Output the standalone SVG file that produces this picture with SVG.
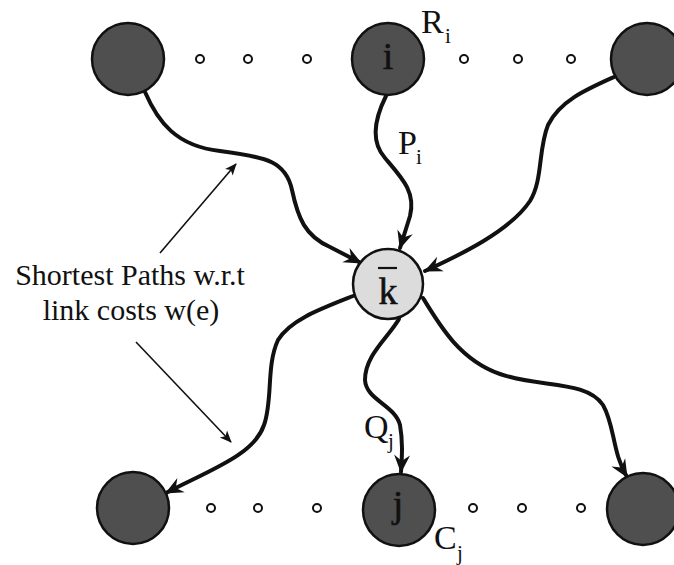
<svg xmlns="http://www.w3.org/2000/svg" width="674" height="565" viewBox="0 0 674 565">
  <style>
    .host { fill: #4f4f4f; stroke: #111111; stroke-width: 2.5; }
    .hub { fill: #dcdcdc; stroke: #111111; stroke-width: 2.5; }
    .dot { fill: #ffffff; stroke: #111111; stroke-width: 2; }
    .path { fill: none; stroke: #111111; stroke-width: 4; stroke-linecap: round; marker-end: url(#ah); }
    .note { fill: none; stroke: #111111; stroke-width: 1.6; marker-end: url(#thin); }
    text { font-family: "Liberation Serif", "Times New Roman", serif; fill: #111111; }
    .lbl { font-size: 38px; text-anchor: middle; stroke: #111111; stroke-width: 0.6; }
    .big { font-size: 34px; }
    .sub { font-size: 21px; }
    .cap { font-size: 30px; text-anchor: middle; }
  </style>
  <defs>
    <marker id="ah" viewBox="-18 -10 20 20" refX="0" refY="0" markerWidth="20" markerHeight="20" markerUnits="userSpaceOnUse" orient="auto">
      <path d="M1,0 L-17,-8 L-11,0 L-17,8 Z" fill="#111111"/>
    </marker>
    <marker id="thin" viewBox="-12 -6 13 12" refX="0" refY="0" markerWidth="13" markerHeight="12" markerUnits="userSpaceOnUse" orient="auto">
      <path d="M1,0 L-11,-5 L-8,0 L-11,5 Z" fill="#111111"/>
    </marker>
  </defs>

  <!-- shortest-path connectors -->
  <g id="connectors">
    <path class="path" d="M145,92 C158,122 176,146 220,151 C268,157 286,162 292,190 C298,218 305,236 330,247 L361,263"/>
    <path class="path" d="M386,96 C376,116 369,140 385,158 C402,178 416,192 410,216 L400,248"/>
    <path class="path" d="M614,77 C585,90 560,101 548,125 C538,150 543,180 530,201 C510,231 460,255 425,271"/>
    <path class="path" d="M353,296 C320,309 290,320 278,340 C266,366 273,400 264,425 C254,455 210,470 166,493"/>
    <path class="path" d="M399,319 C388,338 365,355 365,380 C366,400 395,405 400,425 C403,442 402,456 401,472"/>
    <path class="path" d="M423,298 C440,326 460,360 500,374 C540,388 586,380 603,405 C615,426 612,452 627,477"/>
    <line class="note" x1="160" y1="253" x2="236" y2="164"/>
    <line class="note" x1="136" y1="342" x2="231" y2="442"/>
  </g>

  <!-- row of source nodes -->
  <g id="source-left"><circle class="host" cx="128" cy="59" r="36"/></g>
  <g id="source-i">
    <circle class="host" cx="388" cy="59" r="36"/>
    <text class="lbl" x="388" y="69">i</text>
  </g>
  <g id="source-right"><circle class="host" cx="647" cy="59" r="36"/></g>
  <g id="source-gaps">
    <circle class="dot" cx="200" cy="59" r="4"/>
    <circle class="dot" cx="248" cy="59" r="4"/>
    <circle class="dot" cx="307" cy="59" r="4"/>
    <circle class="dot" cx="464" cy="59" r="4"/>
    <circle class="dot" cx="518" cy="59" r="4"/>
    <circle class="dot" cx="571" cy="59" r="4"/>
  </g>
  <g id="label-Ri">
    <text class="big" x="421" y="33">R</text>
    <text class="sub" x="445" y="43">i</text>
  </g>
  <g id="label-Pi">
    <text class="big" x="398" y="154">P</text>
    <text class="sub" x="416" y="164">i</text>
  </g>

  <!-- relay node -->
  <g id="relay-k">
    <circle class="hub" cx="388" cy="284" r="35"/>
    <text class="lbl" x="388" y="304">k</text>
    <line x1="378" y1="268" x2="397" y2="268" stroke="#111111" stroke-width="2.2"/>
  </g>

  <!-- row of destination nodes -->
  <g id="dest-left"><circle class="host" cx="133" cy="508" r="36"/></g>
  <g id="dest-j">
    <circle class="host" cx="399" cy="510" r="36"/>
    <text class="lbl" x="398" y="517">j</text>
  </g>
  <g id="dest-right"><circle class="host" cx="643" cy="509" r="36"/></g>
  <g id="dest-gaps">
    <circle class="dot" cx="211" cy="508" r="4"/>
    <circle class="dot" cx="258" cy="508" r="4"/>
    <circle class="dot" cx="317" cy="508" r="4"/>
    <circle class="dot" cx="473" cy="508" r="4"/>
    <circle class="dot" cx="522" cy="508" r="4"/>
    <circle class="dot" cx="581" cy="508" r="4"/>
  </g>
  <g id="label-Qj">
    <text class="big" x="364" y="438">Q</text>
    <text class="sub" x="388" y="448">j</text>
  </g>
  <g id="label-Cj">
    <text class="big" x="434" y="549">C</text>
    <text class="sub" x="457" y="560">j</text>
  </g>

  <!-- caption -->
  <g id="caption">
    <text class="cap" x="130" y="285">Shortest Paths w.r.t</text>
    <text class="cap" x="131" y="320">link costs w(e)</text>
  </g>
</svg>
